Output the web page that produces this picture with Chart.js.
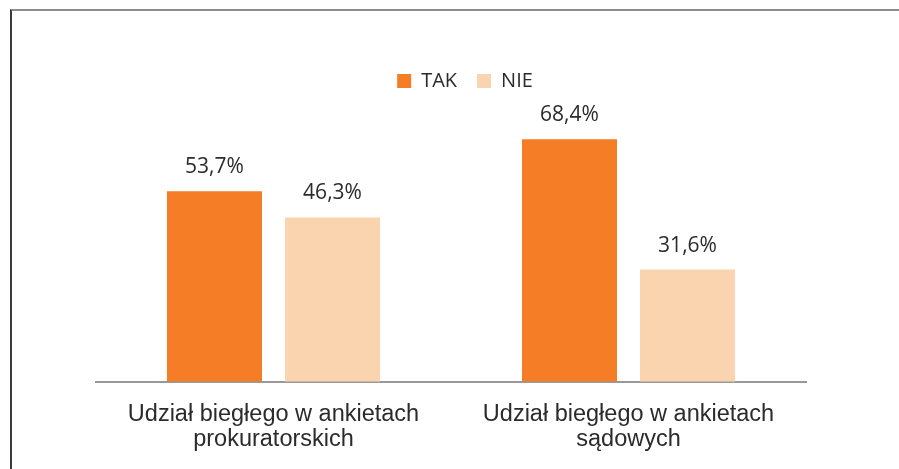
<!DOCTYPE html>
<html>
<head>
<meta charset="utf-8">
<script src="https://cdn.jsdelivr.net/npm/chart.js@4"></script>
<style>
  body { margin: 0; background: #fff; }
  #ramka { position: absolute; left: 10px; top: 9px; width: 889px; height: 460px;
           border-top: 2px solid #8c8c8c; border-left: 2px solid #3a3a3a; box-sizing: border-box; }
  #wykres { position: absolute; left: 0; top: 0; }
</style>
</head>
<body>
<div id="ramka"></div>
<canvas id="wykres" width="899" height="469"></canvas>
<script>
const kategorie = [
    ["Udział biegłego w ankietach", "prokuratorskich"],
    ["Udział biegłego w ankietach", "sądowych"]
];
const wartosciTak = [53.7, 68.4];
const wartosciNie = [46.3, 31.6];

// etykiety nad słupkami (format z przecinkiem)
const etykietyDanych = {
    id: "etykietyDanych",
    afterDatasetsDraw(chart) {
        const ctx = chart.ctx;
        ctx.save();
        ctx.font = "21px 'Open Sans'";
        ctx.fillStyle = "#2b2b2b";
        ctx.textAlign = "center";
        ctx.textBaseline = "middle";
        chart.data.datasets.forEach((ds, i) => {
            chart.getDatasetMeta(i).data.forEach((bar, j) => {
                const tekst = ds.data[j].toFixed(1).replace(".", ",") + "%";
                ctx.fillText(tekst, bar.x, bar.y - 24);
            });
        });
        ctx.restore();
    }
};

// legenda lekko przesunięta w prawo i w dół, jak w oryginale
const przesunLegende = {
    id: "przesunLegende",
    afterLayout(chart) {
        chart.legend.left += 14;
        chart.legend.right += 14;
        chart.legend.top += 3;
        chart.legend.bottom += 3;
    }
};

new Chart(document.getElementById("wykres"), {
    type: "bar",
    data: {
        labels: kategorie,
        datasets: [{
            label: "TAK",
            data: wartosciTak,
            backgroundColor: "#f47d25",
            categoryPercentage: 0.665,
            barPercentage: 0.805
        }, {
            label: "NIE",
            data: wartosciNie,
            backgroundColor: "#fad3af",
            categoryPercentage: 0.665,
            barPercentage: 0.805
        }]
    },
    options: {
        responsive: false,
        animation: false,
        layout: {
            padding: { top: 48, left: 96, right: 93, bottom: 4 }
        },
        plugins: {
            legend: {
                position: "top",
                labels: {
                    boxWidth: 14,
                    boxHeight: 14,
                    padding: 20,
                    color: "#2b2b2b",
                    font: { family: "'Open Sans'", size: 20 }
                }
            },
            tooltip: { enabled: false }
        },
        scales: {
            x: {
                grid: { display: false },
                border: { display: true, color: "#999999", width: 2 },
                ticks: {
                    color: "#2b2b2b",
                    padding: 13,
                    maxRotation: 0,
                    font: { family: "'Liberation Sans', Arial", size: 23.5, lineHeight: 1.05 }
                }
            },
            y: {
                display: false,
                min: 0,
                max: 80
            }
        }
    },
    plugins: [etykietyDanych, przesunLegende]
});
</script>
</body>
</html>
